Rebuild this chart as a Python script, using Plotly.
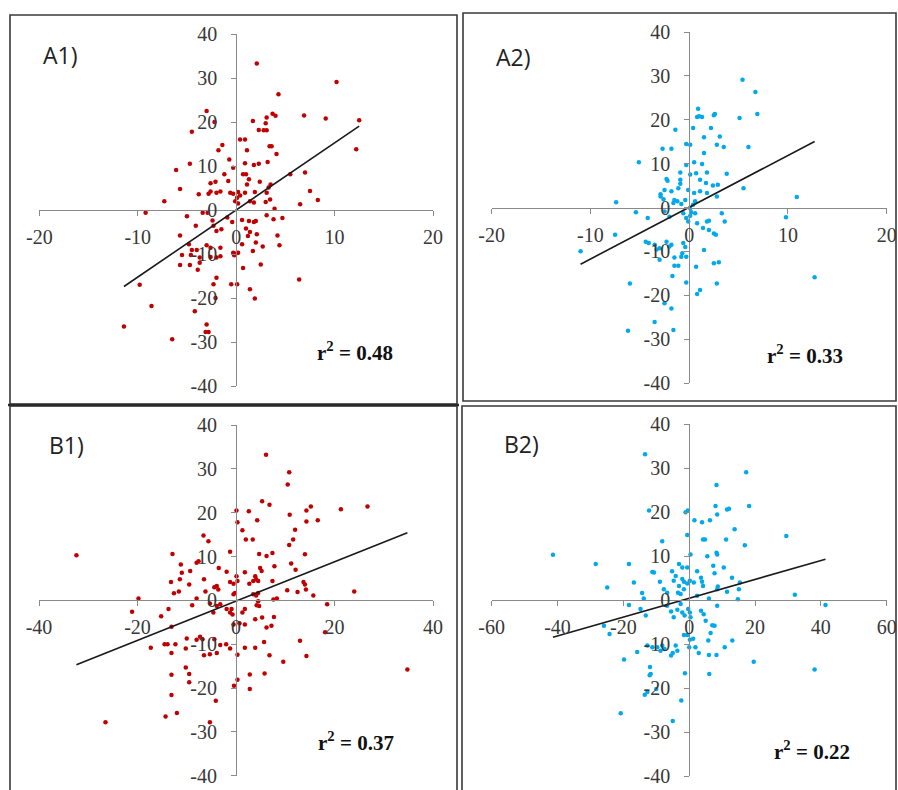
import plotly.graph_objects as go

W, H = 898, 790

# ---------------- data ----------------
a1_x = [2.1, 10.2, 4.3, -3.0, 12.5, 9.1, 6.9, 3.7, 4.0, 1.7, 3.1, 3.0, -2.2, -4.5, 2.3, 2.8, 3.1, 0.4, 0.9,
        -1.4, -1.8, 3.4, 3.6, 1.1, 4.1, 12.2, -0.7, -4.7, -6.1, -0.3, 0.9, 1.8, 2.3, 3.2, -1.2, 0.7, 1.0, 5.5,
        7.0, -2.6, -2.1, -0.8, 1.3, 1.1, 2.4, 3.5, 3.3, -5.7, -3.8, -2.8, -2.6, -2.0, -1.6, -0.6, -0.3, 0.2,
        0.4, 0.9, 1.9, 3.1, 7.5, 8.3, -7.3, 0.1, -0.1, 0.2, 1.4, 1.8, 3.0, 3.45, 6.5, -9.2, -3.4, -2.9, 3.9,
        3.1, 3.8, 4.7, -2.4, -2.3, -0.9, -0.4, 0.6, 1.3, 1.8, 2.0, 1.0, 1.4, 1.2, -2.0, -1.5, -4.1, -5.7, 2.1,
        2.0, 4.2, 4.4, 2.7, 0.6, -4.8, -4.5, -4.0, -3.0, -2.6, -1.6, -0.3, 0.1, -0.2, 0.2, -5.5, -4.6, -3.7,
        -2.6, -2.0, -1.6, 1.7, -5.7, -4.7, -3.9, -3.7, 2.5, 0.7, -2.0, -2.3, 6.4, -0.5, 0.1, -9.8, 1.4, 1.9,
        -2.1, -8.6, -4.2, -3.0, -3.1, -2.8, -11.4, -6.5, -5.0]
a1_y = [33.3, 29.1, 26.3, 22.5, 20.4, 20.8, 21.5, 21.9, 21.4, 20.2, 21.0, 19.7, 20.0, 17.8, 18.2, 18.1, 18.1,
        16.0, 16.0, 14.8, 13.6, 14.5, 14.5, 13.6, 12.7, 13.8, 11.5, 10.5, 9.1, 9.6, 10.6, 10.2, 10.5, 10.9,
        8.1, 8.1, 8.1, 8.1, 8.5, 6.1, 6.4, 6.6, 7.0, 5.8, 6.4, 5.8, 5.1, 4.8, 3.6, 3.7, 4.2, 3.9, 4.2, 3.9,
        3.7, 4.1, 3.3, 3.9, 4.1, 3.9, 4.3, 2.3, 2.0, 2.8, 2.0, 1.5, 2.0, 1.7, 1.8, 2.4, 1.3, -0.6, -0.6,
        -0.6, 0.3, -1.2, -2.1, -1.8, -2.4, -3.6, -1.7, -2.7, -2.3, -2.5, -2.7, -2.5, -4.2, -5.0, -5.9, -4.8,
        -4.4, -3.6, -5.8, -5.5, -7.4, -5.8, -8.0, -8.3, -7.8, -7.8, -9.1, -9.1, -8.0, -8.6, -8.6, -9.7,
        -9.8, -10.3, -9.7, -10.2, -10.2, -10.8, -10.7, -10.8, -10.5, -9.3, -12.5, -12.5, -13.6, -12.0,
        -12.4, -13.2, -15.4, -16.9, -15.8, -16.9, -16.9, -17.0, -18.0, -20.1, -20.0, -21.8, -23.0, -26.0,
        -27.7, -27.7, -26.5, -29.4, -1.4]

a2_x = [5.4, 6.7, 6.9, 0.9, 1.0, 0.8, 1.3, 2.5, 2.6, 5.1, 0.4, 2.2, -1.4, 1.5, 3.1, 2.8, 3.5, -0.3, 0.1,
        6.0, -2.7, -1.8, 1.5, -5.1, -0.3, 0.5, 1.3, -0.9, 0.1, 0.7, 1.8, 3.8, -2.3, -2.2, -0.9, -0.9, 1.1,
        1.7, 2.4, 2.9, 5.5, -2.5, -1.8, -1.1, -0.1, 0.5, 1.1, 1.8, 2.8, -2.9, -2.9, -2.6, -1.5, -1.2, -0.4,
        -7.4, 10.9, -1.6, -0.8, 0.6, 0.4, 0.1, 0.2, 0.1, -5.4, -2.5, -2.0, -0.6, -0.3, -0.1, 0.6, 0.8, 2.0,
        1.8, 3.3, 3.6, 9.8, 1.4, 2.0, 2.5, 2.7, -7.5, -4.4, -4.1, -3.5, -2.3, -2.0, -1.8, -0.6, -0.4, -0.7,
        -0.3, 1.5, -11.0, -3.0, -1.5, -1.1, -0.8, -3.0, -3.3, -1.5, 0.7, 2.5, 3.0, -1.7, -0.3, -6.0, 2.8,
        12.7, 1.1, 0.8, -2.5, -1.8, -3.5, -6.2, -1.6, -4.2]
a2_y = [29.1, 26.3, 21.3, 22.5, 20.8, 20.6, 20.6, 21.0, 21.3, 20.4, 18.1, 18.1, 17.7, 16.0, 16.2, 14.3, 13.8,
        14.5, 14.3, 13.8, 13.4, 13.4, 12.4, 10.3, 9.7, 10.3, 9.9, 8.0, 7.5, 7.8, 8.0, 7.7, 6.5, 6.1, 6.3,
        5.4, 6.3, 5.6, 5.0, 5.2, 4.4, 4.0, 3.7, 4.4, 4.0, 3.3, 3.7, 3.3, 2.5, 3.0, 2.5, 1.9, 1.7, 1.4, 1.7,
        1.2, 2.4, 1.0, 0.8, 1.4, 0.6, -0.2, -1.1, -1.9, -1.1, -0.9, -2.1, -1.3, -2.4, -3.2, -1.3, -3.6,
        -3.0, -3.2, -1.3, -3.2, -2.2, -4.7, -5.1, -5.9, -6.2, -6.2, -7.8, -8.1, -8.5, -7.8, -8.9, -8.5,
        -8.1, -9.0, -10.4, -11.2, -9.7, -10.0, -11.9, -11.4, -13.3, -11.2, -9.3, -9.6, -13.3, -13.5, -12.7,
        -12.5, -15.6, -17.1, -17.3, -17.3, -15.9, -18.8, -19.7, -21.8, -23.0, -26.1, -28.1, -27.9, -2.4]

b1_x = [6.1, 10.8, 10.5, 5.3, 6.8, 0.1, 2.6, 21.3, 26.7, 15.2, 14.3, 10.9, 0.3, 4.3, 14.3, 16.6, 12.0, 1.3,
        -6.6, -5.6, 2.0, 3.4, 11.6, 10.8, -1.2, -12.9, -32.4, 4.7, 6.2, 7.4, 14.0, -7.6, -8.0, -11.2, -9.3,
        -11.0, 11.2, 12.1, -1.9, 0.1, 4.9, 5.2, 3.9, 4.5, 1.8, 7.8, -3.5, -11.4, -13.2, -9.5, -6.5, -3.9,
        -3.6, -4.4, -1.2, -0.5, 0.3, 2.7, 3.5, 4.1, 7.4, 13.7, 14.0, -12.6, -11.6, -6.2, -8.0, -19.8, -0.5,
        -0.2, 3.5, 4.1, 4.5, 10.4, 12.5, 14.2, 15.7, 24.0, 7.6, 8.3, -8.9, -21.1, -13.7, -15.2, -5.3, -3.9,
        -3.2, -4.6, -1.9, -1.2, -0.9, -0.7, 1.3, 1.8, 4.2, 4.5, 4.7, 18.5, 0.7, 1.8, 3.9, 5.3, 6.2, 7.2,
        7.7, -0.5, -13.1, 18.1, -7.3, -6.8, -8.0, -4.4, -3.2, -2.0, -10.0, -12.3, -17.3, -14.5, -13.9,
        -10.2, -6.5, -5.3, -3.9, -13.1, -1.2, 0.3, 1.8, 3.9, 5.7, 6.8, 13.0, 14.3, 9.6, -13.1, -9.5, -10.2,
        -9.5, 2.8, 5.8, 0.3, -0.4, 2.8, -13.1, -4.1, -14.3, -12.0, -26.5, -5.3, 34.8]
b1_y = [33.2, 29.2, 26.4, 22.6, 21.8, 20.5, 20.3, 20.8, 21.4, 21.4, 20.5, 19.5, 17.8, 18.3, 18.0, 18.3,
        16.1, 16.0, 14.8, 13.5, 13.9, 13.9, 13.9, 12.6, 11.1, 10.6, 10.3, 10.6, 10.1, 10.8, 10.5, 8.9, 8.6,
        8.2, 6.7, 6.3, 8.4, 7.0, 6.5, 5.5, 7.4, 6.7, 5.5, 4.4, 6.4, 7.8, 7.4, 4.8, 4.2, 3.6, 4.8, 3.3, 2.5,
        3.0, 4.2, 3.8, 4.4, 3.8, 4.4, 4.8, 4.4, 4.2, 3.6, 1.6, 2.0, 2.0, 0.4, 0.4, 1.4, 1.7, 1.4, 1.1, 1.7,
        2.3, 1.9, 2.5, 1.1, 2.0, 0.2, 0.4, -1.1, -2.6, -2.0, -3.6, -0.7, -1.3, -0.9, -2.8, -2.0, -2.8, -2.0,
        -3.2, -2.8, -2.0, -1.1, -0.2, -1.3, -0.9, -5.2, -5.5, -4.3, -3.9, -6.2, -5.8, -3.8, -5.5, -6.0,
        -7.3, -8.3, -8.9, -9.0, -8.9, -10.2, -10.0, -8.7, -10.0, -10.8, -10.0, -10.0, -11.0, -12.5, -12.3,
        -12.0, -12.0, -11.0, -12.4, -10.8, -10.8, -9.5, -12.5, -9.2, -12.7, -14.0, -17.0, -16.8, -15.3,
        -18.7, -16.9, -16.7, -18.1, -19.5, -20.2, -21.6, -22.9, -26.5, -25.7, -27.8, -27.8, -15.8]

b2_x = [-13.4, 17.3, 8.3, 8.0, 8.5, 18.2, 11.5, 12.1, -0.4, -1.1, -12.2, 1.6, 3.9, 6.3, 13.8, 29.5, -0.6,
        11.2, 4.2, 4.8, -8.2, 16.9, 0.4, 5.5, 8.3, 8.5, -41.4, -28.4, -18.3, -3.1, -2.1, -11.2, -10.7, -0.6,
        7.3, 7.7, 10.5, 2.4, -8.9, -16.8, -24.9, -5.2, -4.1, -4.7, -2.1, -1.6, -0.6, 0.2, 1.4, 3.6, 3.9, 4.2,
        8.7, 8.5, 13.0, 15.4, 15.1, 11.5, -3.4, -2.6, -1.6, -3.1, -14.3, -13.8, -7.7, -6.7, 32.1, 14.8, 6.0,
        2.4, -18.3, -14.8, 41.4, -6.7, -5.5, -2.6, -3.6, -2.1, -1.4, -0.3, 0.2, 0.4, 3.6, 4.4, 5.0, 8.5,
        -13.2, -4.7, -25.9, -24.2, 7.0, 7.7, 6.5, 5.8, 13.1, -0.6, -1.6, 0.2, 1.2, 0.0, 1.9, 2.9, 10.8,
        -12.7, -11.2, -9.7, -8.2, -8.7, -7.5, -4.1, -3.6, -5.0, -5.5, -15.8, 6.0, 8.3, -19.8, 19.6, -1.3,
        6.1, -11.9, -11.7, -12.0, -13.5, -12.7, -2.4, -20.8, -5.0, 38.1, -10.0]
b2_y = [33.2, 29.1, 26.2, 21.4, 19.5, 21.4, 20.6, 20.8, 20.4, 20.0, 20.4, 18.2, 17.7, 18.2, 16.1, 14.6,
        14.8, 13.8, 13.8, 13.8, 13.4, 12.5, 10.4, 10.0, 10.8, 10.4, 10.3, 8.2, 8.2, 8.2, 7.4, 6.4, 6.3,
        7.4, 7.8, 6.1, 7.4, 6.6, 4.2, 4.0, 2.9, 6.6, 5.5, 4.4, 4.8, 4.2, 3.8, 4.4, 4.0, 5.1, 4.2, 3.2, 3.1,
        2.5, 5.1, 4.0, 2.5, 1.9, 1.7, 1.4, 2.5, 3.2, 1.6, 0.4, 2.5, 1.7, 1.2, 0.2, 0.4, 1.0, -1.1, -2.0,
        -1.1, -1.3, -2.6, -0.9, -2.2, -2.8, -3.5, -2.0, -2.8, -3.9, -2.4, -3.2, -4.7, -1.3, -3.5, -3.9,
        -5.8, -7.7, -5.7, -5.8, -7.5, -9.2, -9.2, -7.9, -7.9, -9.0, -8.8, -10.7, -10.7, -12.0, -10.7,
        -10.3, -10.7, -10.7, -10.3, -11.5, -11.1, -10.3, -11.5, -12.0, -12.6, -11.8, -12.5, -12.5, -13.5,
        -14.0, -16.6, -16.8, -15.2, -16.8, -17.1, -21.5, -20.9, -22.8, -25.7, -27.5, -15.8, -20.2]

# trend lines: (slope, intercept)
a1_fit = (1.525, 0.0)
a2_fit = (1.18, 0.06)
b1_fit = (0.448, -0.18)
b2_fit = (0.214, 0.43)

panel_labels = ["A1)", "A2)", "B1)", "B2)"]
r2_values = ["0.48", "0.33", "0.37", "0.22"]
x_tick_sets = [[-20, -10, 0, 10, 20], [-20, -10, 0, 10, 20],
               [-40, -20, 0, 20, 40], [-60, -40, -20, 0, 20, 40, 60]]
y_ticks = [-40, -30, -20, -10, 0, 10, 20, 30, 40]

RED = "#C00000"
BLUE = "#00A9EC"

panels = [
    dict(x=a1_x, y=a1_y, fit=a1_fit, color=RED,
         area=(39.3, 433.0, 34.0, 386.0), box=(10, 15, 457, 404),
         lab=(41, 55), r2=(315, 352)),
    dict(x=a2_x, y=a2_y, fit=a2_fit, color=BLUE,
         area=(491.7, 886.7, 32.0, 383.0), box=(463, 13, 896, 401),
         lab=(494, 57), r2=(765, 355)),
    dict(x=b1_x, y=b1_y, fit=b1_fit, color=RED,
         area=(39.0, 433.0, 425.0, 775.7), box=(10, 406, 457, 795),
         lab=(47, 445), r2=(316, 741)),
    dict(x=b2_x, y=b2_y, fit=b2_fit, color=BLUE,
         area=(491.7, 886.7, 424.3, 776.0), box=(462, 406, 896, 795),
         lab=(502, 444), r2=(772, 750)),
]


def fmt(v):
    return ("-" if v < 0 else "") + str(abs(v))


TICK_FONT = dict(family="Liberation Serif", size=20, color="#383838")

fig = go.Figure()
layout = dict(width=W, height=H, margin=dict(l=0, r=0, t=0, b=0),
              paper_bgcolor="white", plot_bgcolor="rgba(0,0,0,0)",
              showlegend=False,
              font=dict(family="Liberation Serif", size=20, color="#383838"))
shapes = []
annotations = []

AXIS_COLOR = "#8A8A8A"

for i, p in enumerate(panels):
    n = "" if i == 0 else str(i + 1)
    xa, ya = "x" + n, "y" + n
    x0, x1, y0, y1 = p["area"]
    xt = x_tick_sets[i]
    xr = (xt[0], xt[-1])
    yr = (y_ticks[0], y_ticks[-1])
    fig.add_trace(go.Scatter(x=p["x"], y=p["y"], mode="markers", xaxis=xa, yaxis=ya,
                             marker=dict(size=4.5, color=p["color"]), cliponaxis=False))
    s, b = p["fit"]
    lx = [min(p["x"]), max(p["x"])]
    fig.add_trace(go.Scatter(x=lx, y=[s * v + b for v in lx], mode="lines", xaxis=xa, yaxis=ya,
                             line=dict(color="#1A1A1A", width=1.6), cliponaxis=False))
    xdom = [x0 / W, x1 / W]
    ydom = [1 - y1 / H, 1 - y0 / H]
    zero_xpix = x0 + (0 - xr[0]) / (xr[1] - xr[0]) * (x1 - x0)
    zero_ypix = y1 - (0 - yr[0]) / (yr[1] - yr[0]) * (y1 - y0)
    layout["xaxis" + n] = dict(domain=xdom, range=list(xr),
                               tickmode="array", tickvals=xt, ticktext=[fmt(v) for v in xt],
                               anchor="free", position=1 - zero_ypix / H,
                               showline=True, linecolor=AXIS_COLOR, linewidth=1,
                               ticks="outside", ticklen=5, tickcolor=AXIS_COLOR, tickwidth=1,
                               showgrid=False, zeroline=False, tickfont=dict(TICK_FONT),
                               ticklabelstandoff=4, automargin=False, fixedrange=True)
    layout["yaxis" + n] = dict(domain=ydom, range=list(yr),
                               tickmode="array", tickvals=y_ticks, ticktext=[fmt(v) for v in y_ticks],
                               anchor="free", position=zero_xpix / W,
                               showline=True, linecolor=AXIS_COLOR, linewidth=1,
                               ticks="outside", ticklen=5, tickcolor=AXIS_COLOR, tickwidth=1,
                               showgrid=False, zeroline=False, tickfont=dict(TICK_FONT),
                               ticklabelstandoff=10, automargin=False, fixedrange=True)
    bx0, by0, bx1, by1 = p["box"]
    shapes.append(dict(type="rect", xref="paper", yref="paper",
                       x0=bx0 / W, x1=bx1 / W, y0=1 - by1 / H, y1=1 - by0 / H,
                       line=dict(color="#3A3A3A", width=1.6), fillcolor="rgba(0,0,0,0)"))
    annotations.append(dict(xref="paper", yref="paper", x=p["lab"][0] / W, y=1 - p["lab"][1] / H,
                            xanchor="left", yanchor="middle", showarrow=False, text=panel_labels[i],
                            font=dict(family="Open Sans", size=23, color="#222222")))
    annotations.append(dict(xref="paper", yref="paper", x=p["r2"][0] / W, y=1 - p["r2"][1] / H,
                            xanchor="left", yanchor="middle", showarrow=False,
                            text="<b>r<sup>2</sup> = " + r2_values[i] + "</b>",
                            font=dict(family="Liberation Serif", size=21, color="#111111")))

shapes.append(dict(type="line", xref="paper", yref="paper", x0=8 / W, x1=459 / W,
                   y0=1 - 405 / H, y1=1 - 405 / H, line=dict(color="#2A2A2A", width=2.5)))

layout["shapes"] = shapes
layout["annotations"] = annotations
fig.update_layout(**layout)
fig.write_html("out.html")
